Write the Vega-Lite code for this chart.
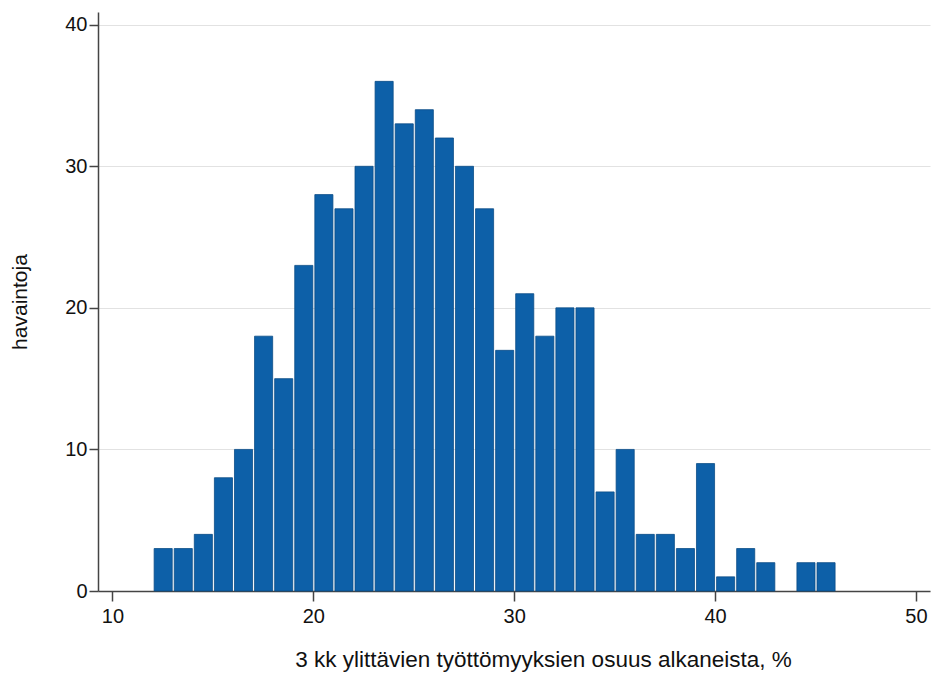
{
  "$schema": "https://vega.github.io/schema/vega-lite/v6.json",
  "width": 832,
  "height": 579,
  "autosize": "none",
  "padding": {"left": 98, "top": 12, "right": 3, "bottom": 84},
  "background": "white",
  "config": {
    "view": {"stroke": null},
    "font": "Liberation Sans"
  },
  "data": {
    "values": [
      {"lo": 12, "hi": 13, "n": 3},
      {"lo": 13, "hi": 14, "n": 3},
      {"lo": 14, "hi": 15, "n": 4},
      {"lo": 15, "hi": 16, "n": 8},
      {"lo": 16, "hi": 17, "n": 10},
      {"lo": 17, "hi": 18, "n": 18},
      {"lo": 18, "hi": 19, "n": 15},
      {"lo": 19, "hi": 20, "n": 23},
      {"lo": 20, "hi": 21, "n": 28},
      {"lo": 21, "hi": 22, "n": 27},
      {"lo": 22, "hi": 23, "n": 30},
      {"lo": 23, "hi": 24, "n": 36},
      {"lo": 24, "hi": 25, "n": 33},
      {"lo": 25, "hi": 26, "n": 34},
      {"lo": 26, "hi": 27, "n": 32},
      {"lo": 27, "hi": 28, "n": 30},
      {"lo": 28, "hi": 29, "n": 27},
      {"lo": 29, "hi": 30, "n": 17},
      {"lo": 30, "hi": 31, "n": 21},
      {"lo": 31, "hi": 32, "n": 18},
      {"lo": 32, "hi": 33, "n": 20},
      {"lo": 33, "hi": 34, "n": 20},
      {"lo": 34, "hi": 35, "n": 7},
      {"lo": 35, "hi": 36, "n": 10},
      {"lo": 36, "hi": 37, "n": 4},
      {"lo": 37, "hi": 38, "n": 4},
      {"lo": 38, "hi": 39, "n": 3},
      {"lo": 39, "hi": 40, "n": 9},
      {"lo": 40, "hi": 41, "n": 1},
      {"lo": 41, "hi": 42, "n": 3},
      {"lo": 42, "hi": 43, "n": 2},
      {"lo": 44, "hi": 45, "n": 2},
      {"lo": 45, "hi": 46, "n": 2}
    ]
  },
  "mark": {"type": "bar", "color": "#0d60a8", "stroke": "#0b4c86", "strokeWidth": 0.8, "binSpacing": 2},
  "encoding": {
    "x": {
      "field": "lo",
      "type": "quantitative",
      "bin": {"binned": true},
      "scale": {"domain": [9.28, 50.7], "nice": false, "zero": false},
      "axis": {
        "values": [10, 20, 30, 40, 50],
        "title": "3 kk ylittävien työttömyyksien osuus alkaneista, %",
        "titleFont": "Liberation Sans",
        "titleFontSize": 22.5,
        "titleFontWeight": "normal",
        "titleColor": "#111",
        "titlePadding": 22,
        "titleX": 445,
        "titleAlign": "center",
        "labelFontSize": 20,
        "labelColor": "#111",
        "labelPadding": 5,
        "tickSize": 10,
        "tickColor": "#444",
        "tickWidth": 1.5,
        "domainColor": "#444",
        "domainWidth": 1.5,
        "grid": false,
        "labelFlush": false
      }
    },
    "x2": {"field": "hi"},
    "y": {
      "field": "n",
      "type": "quantitative",
      "scale": {"domain": [0, 40.9], "nice": false},
      "axis": {
        "values": [0, 10, 20, 30, 40],
        "title": "havaintoja",
        "titleFont": "Liberation Sans",
        "titleFontSize": 21,
        "titleFontWeight": "normal",
        "titleColor": "#111",
        "titlePadding": 34,
        "labelFontSize": 20,
        "labelColor": "#111",
        "labelPadding": 2,
        "tickSize": 9,
        "tickColor": "#444",
        "tickWidth": 1.5,
        "domainColor": "#444",
        "domainWidth": 1.5,
        "grid": true,
        "gridColor": "#e2e2e2",
        "gridWidth": 1.2,
        "labelFlush": false
      }
    }
  }
}
